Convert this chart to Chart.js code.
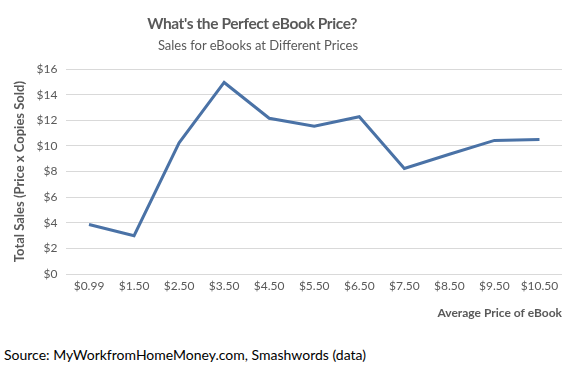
<!DOCTYPE html>
<html>
<head>
<meta charset="utf-8">
<script src="https://cdn.jsdelivr.net/npm/chart.js@4/dist/chart.umd.min.js"></script>
<style>
  html, body { margin: 0; padding: 0; background: #fff; }
  #wrap { position: relative; width: 584px; height: 365px; font-family: Lato, "Open Sans", sans-serif; }
  #chart { position: absolute; left: 0; top: 0; }
  .title { position: absolute; left: 0; width: 516px; text-align: center; color: #595959; }
  #t1 { top: 14px; left: -6px; font-size: 15.5px; font-weight: bold; letter-spacing: -0.4px; }
  #t2 { top: 37px; font-size: 13px; }
  #source { position: absolute; left: 4px; top: 346px; font-size: 14px; color: #000; }
</style>
</head>
<body>
<div id="wrap">
  <canvas id="chart" width="584" height="320"></canvas>
  <div class="title" id="t1">What's the Perfect eBook Price?</div>
  <div class="title" id="t2">Sales for eBooks at Different Prices</div>
  <div id="source">Source: MyWorkfromHomeMoney.com, Smashwords (data)</div>
</div>
<script>
// Data
const prices = ['$0.99', '$1.50', '$2.50', '$3.50', '$4.50', '$5.50', '$6.50', '$7.50', '$8.50', '$9.50', '$10.50'];
const totalSales = [3.87, 3.0, 10.24, 14.95, 12.16, 11.53, 12.28, 8.24, 9.35, 10.43, 10.51];
const yTicks = [0, 2, 4, 6, 8, 10, 12, 14, 16];

const textColor = '#595959';
const gridColor = '#d9d9d9';

const ctx = document.getElementById('chart').getContext('2d');

new Chart(ctx, {
    type: 'line',
    data: {
        labels: prices,
        datasets: [{
            label: 'Total Sales',
            data: totalSales,
            borderColor: '#4a72a6',
            borderWidth: 3,
            pointRadius: 0,
            tension: 0,
            fill: false
        }]
    },
    options: {
        responsive: false,
        animation: false,
        layout: {
            padding: { top: 69, right: 22, left: 3, bottom: 0 }
        },
        plugins: {
            legend: { display: false },
            tooltip: { enabled: false }
        },
        scales: {
            x: {
                offset: true,
                grid: { display: false, drawTicks: false },
                border: { display: false },
                ticks: {
                    color: textColor,
                    font: { family: 'Lato', size: 12 },
                    maxRotation: 0,
                    autoSkip: false,
                    padding: 5
                },
                title: {
                    display: true,
                    text: 'Average Price of eBook',
                    align: 'end',
                    color: textColor,
                    font: { family: 'Lato', size: 12, weight: 'bold' },
                    padding: { top: 7, bottom: 0 }
                }
            },
            y: {
                min: 0,
                max: 16,
                afterBuildTicks: function(axis) {
                    axis.ticks = yTicks.map(v => ({ value: v }));
                },
                grid: { color: gridColor, lineWidth: 1, drawTicks: false },
                border: { display: false },
                ticks: {
                    color: textColor,
                    font: { family: 'Lato', size: 12 },
                    padding: 9,
                    callback: function(value) { return '$' + value; }
                },
                title: {
                    display: true,
                    text: 'Total Sales (Price x Copies Sold)',
                    color: textColor,
                    font: { family: 'Lato', size: 13, weight: 'bold' },
                    padding: { top: 9, bottom: 0 }
                }
            }
        }
    }
});
</script>
</body>
</html>
